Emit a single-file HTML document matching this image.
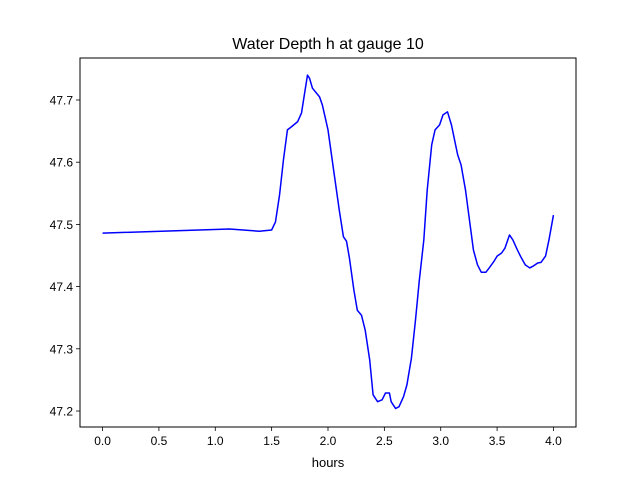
<!DOCTYPE html>
<html><head><meta charset="utf-8"><style>
html,body{margin:0;padding:0;background:#fff;}
svg{display:block;font-family:"Liberation Sans","DejaVu Sans",sans-serif;}
</style></head><body>
<svg id="chart" width="640" height="480">
<rect x="0" y="0" width="640" height="480" fill="#fff"/>
<text x="328" y="49" font-size="16" text-anchor="middle">Water Depth h at gauge 10</text>
<text x="328" y="467" font-size="13" text-anchor="middle">hours</text>
<g id="plot"></g>
</svg>
<script>
const times=[0,1.126,1.39,1.5,1.534,1.57,1.605,1.64,1.676,1.73,1.765,1.79,1.818,1.836,1.862,1.925,1.95,2.0,2.05,2.1,2.137,2.164,2.19,2.23,2.26,2.297,2.33,2.37,2.40,2.44,2.48,2.51,2.545,2.56,2.6,2.63,2.67,2.70,2.74,2.776,2.81,2.85,2.88,2.92,2.95,2.99,3.02,3.06,3.095,3.15,3.18,3.22,3.255,3.29,3.326,3.36,3.40,3.43,3.47,3.50,3.54,3.57,3.61,3.64,3.68,3.71,3.75,3.79,3.82,3.86,3.89,3.93,3.96,4.0];
const depths=[47.486,47.4926,47.489,47.491,47.504,47.547,47.604,47.652,47.657,47.665,47.679,47.708,47.740,47.735,47.719,47.705,47.692,47.652,47.587,47.523,47.480,47.473,47.446,47.394,47.362,47.354,47.330,47.282,47.226,47.215,47.218,47.229,47.229,47.215,47.204,47.207,47.223,47.242,47.285,47.346,47.41,47.475,47.555,47.628,47.652,47.660,47.676,47.681,47.660,47.612,47.596,47.555,47.507,47.459,47.435,47.423,47.423,47.43,47.44,47.449,47.454,47.462,47.483,47.475,47.459,47.448,47.435,47.43,47.433,47.438,47.439,47.449,47.475,47.515];
const xTicks=[0,0.5,1.0,1.5,2.0,2.5,3.0,3.5,4.0];
const yTicks=[47.2,47.3,47.4,47.5,47.6,47.7];
const L=80,R=576,T=58,B=427;
const xMin=-0.2,xMax=4.2,yMin=47.1743,yMax=47.7675;
const xs=v=>L+(v-xMin)/(xMax-xMin)*(R-L);
const ys=v=>B-(v-yMin)/(yMax-yMin)*(B-T);
const NS="http://www.w3.org/2000/svg";
const g=document.getElementById('plot');
function mk(tag,attrs){const e=document.createElementNS(NS,tag);for(const k in attrs)e.setAttribute(k,attrs[k]);g.appendChild(e);return e;}
let d=times.map((t,i)=>(i?'L':'M')+xs(t).toFixed(2)+','+ys(depths[i]).toFixed(2)).join('');
const line=mk('path',{d:d,fill:'none',stroke:'#0000ff','stroke-width':1.5,'stroke-linejoin':'round'});


const frame=mk('rect',{x:L,y:T,width:R-L,height:B-T,fill:'none',stroke:'#000','stroke-width':1});


xTicks.forEach(v=>{
  const x=xs(v);
  const tk=mk('line',{x1:x,y1:B,x2:x,y2:B+4,stroke:'#000','stroke-width':0.8});
  
  
  const tx=mk('text',{x:x,y:B+18,'font-size':12,'text-anchor':'middle'});
  tx.textContent=v.toFixed(1);
  
  
});
yTicks.forEach(v=>{
  const y=ys(v);
  const tk=mk('line',{x1:L-4,y1:y,x2:L,y2:y,stroke:'#000','stroke-width':0.8});
  
  
  const tx=mk('text',{x:L-7,y:y+4.5,'font-size':12,'text-anchor':'end'});
  tx.textContent=v.toFixed(1);
  
  
});
</script>
</body></html>
